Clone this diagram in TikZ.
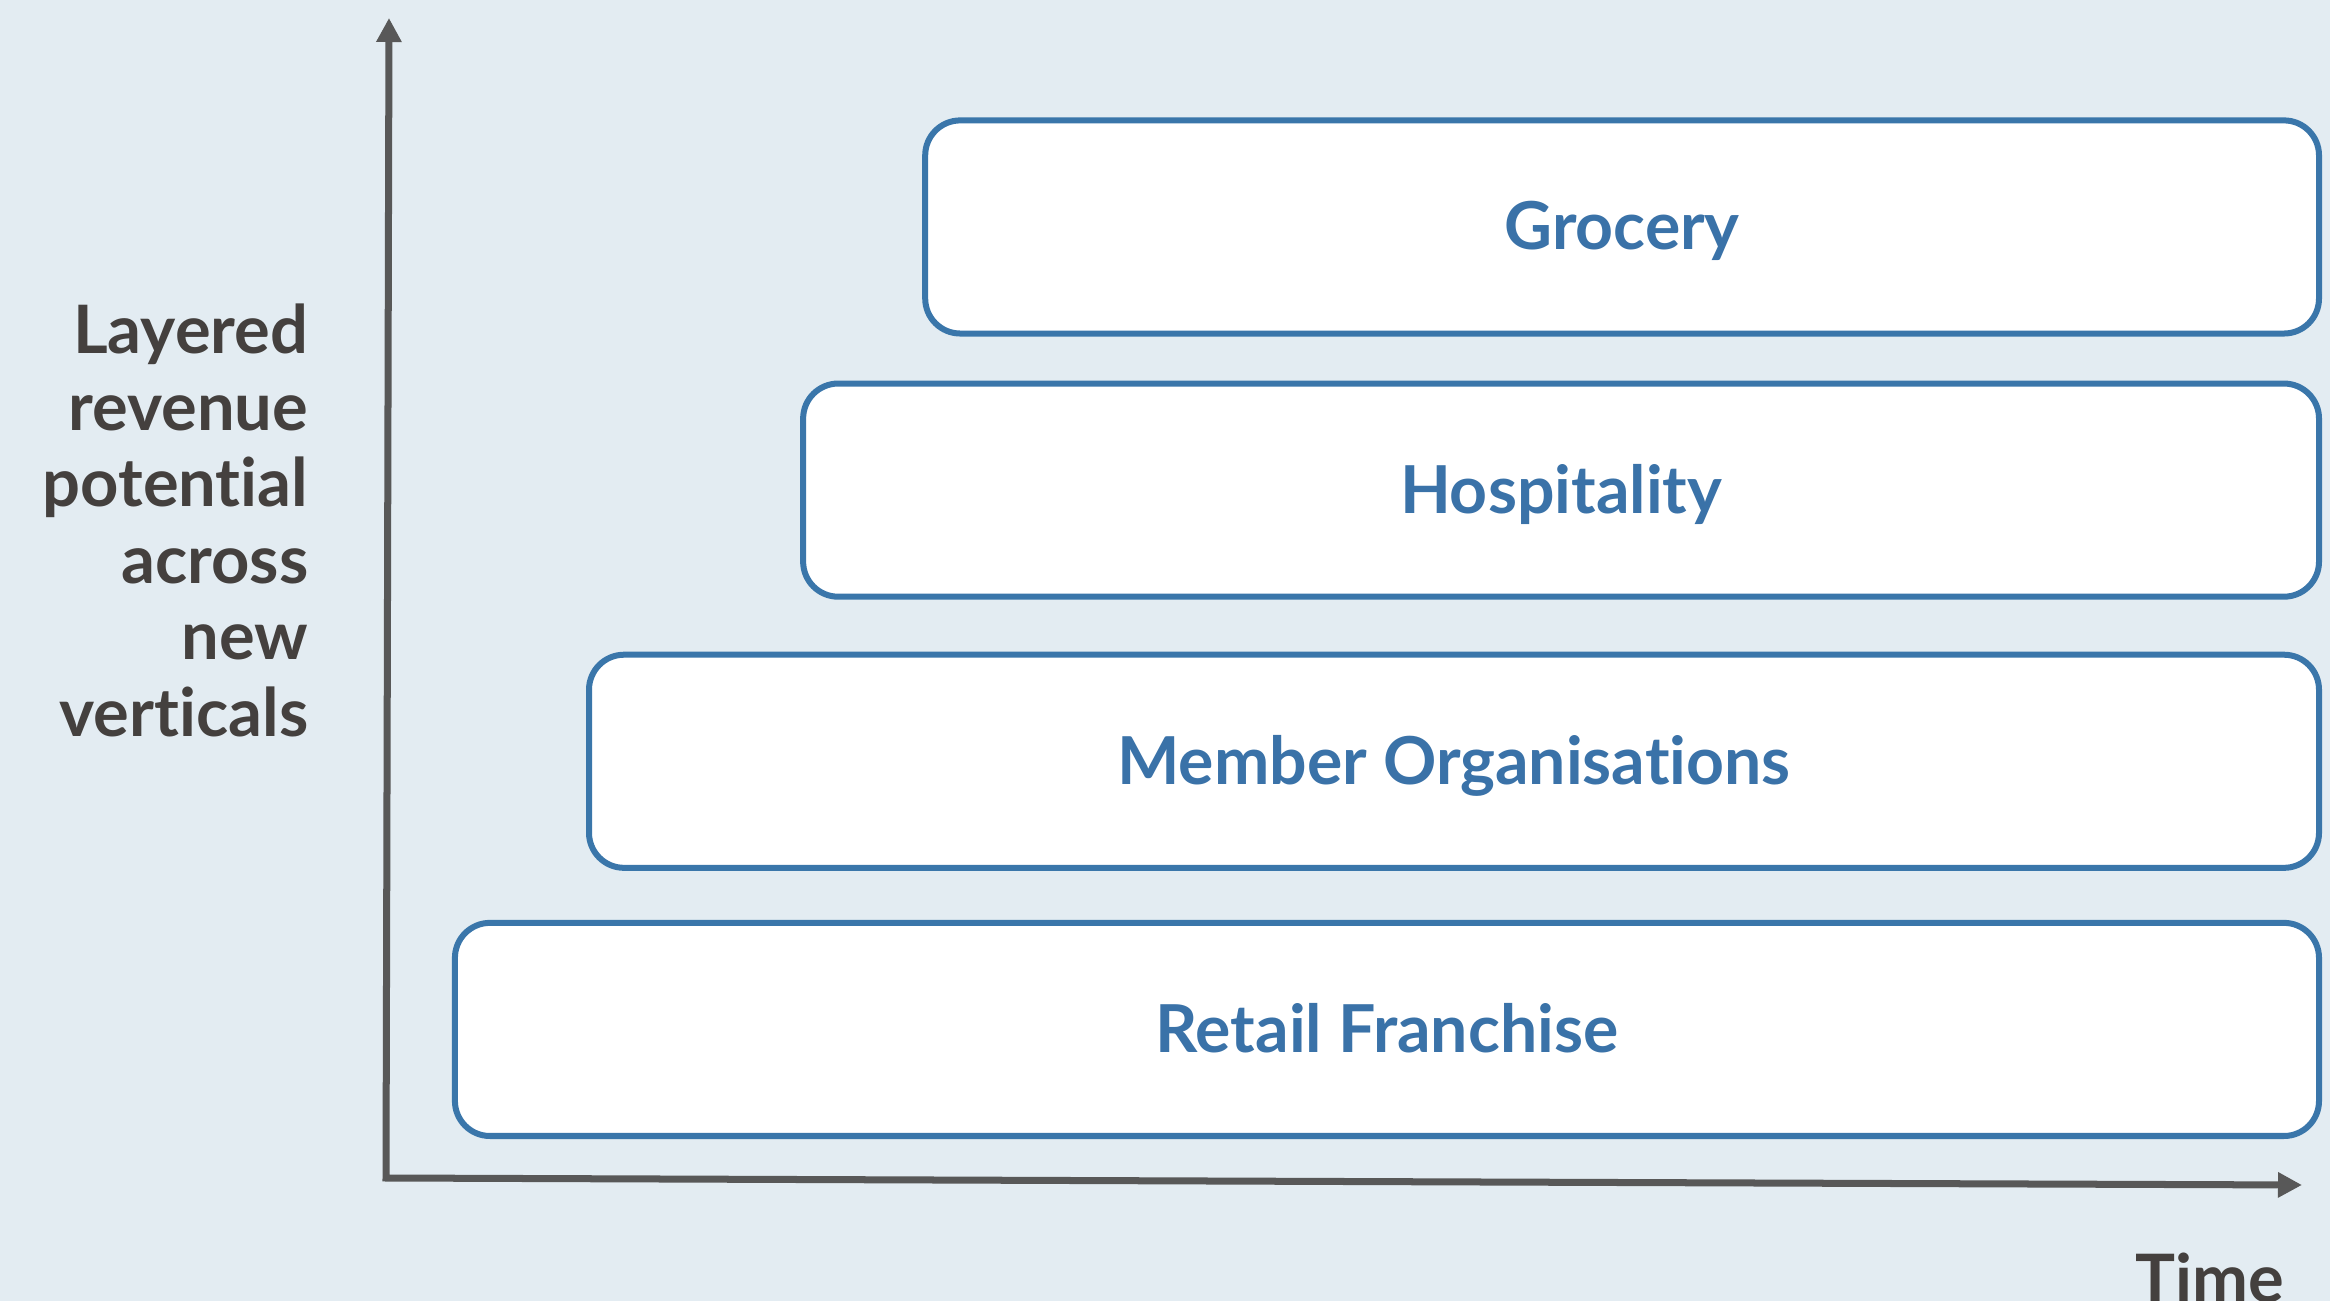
\documentclass[tikz,border=0pt]{standalone}
\usepackage{fontspec}
\setmainfont{Lato}[Ligatures=NoCommon]
\usetikzlibrary{positioning,arrows.meta}

\definecolor{bgBlue}{HTML}{E3ECF2}
\definecolor{boxBlue}{HTML}{3A76AA}
\definecolor{textBlue}{HTML}{3A72A8}
\definecolor{labelGray}{HTML}{44403E}
\definecolor{axisGray}{HTML}{585858}

\begin{document}
\begin{tikzpicture}[x=0.01cm, y=-0.01cm]
\tikzset{
    boxStyle/.style={rectangle, draw=boxBlue, fill=white, line width=0.06cm, rounded corners=0.35cm, minimum height=2.13cm, outer sep=0pt, text height=0.46cm, text depth=0cm, align=center, text=textBlue, font=\fontsize{18.8}{21}\selectfont\bfseries},
    labelStyle/.style={inner sep=0pt, text=labelGray, font=\fontsize{19}{21.8}\selectfont\bfseries},
    axisArrow/.style={{Triangle[length=0.24cm, width=0.24cm]}-{Triangle[length=0.24cm, width=0.24cm]}, line width=0.07cm, axisGray, miter limit=10}
}

\fill[bgBlue] (0,0) rectangle (2330,1301);
\useasboundingbox (0,0) rectangle (2330,1301);

% axes
\coordinate (origin) at (386,1178);
\coordinate (ytip) at (389,18);
\coordinate (xtip) at (2302,1185);
\draw[axisArrow] (ytip) -- (origin) -- (xtip);

% stacked layers
\node[boxStyle, minimum width=18.63cm, anchor=south east] (retail) at (2319,1136) {Retail Franchise};
\node[boxStyle, minimum width=17.29cm, above=0.55cm of retail.north east, anchor=south east] (member) {Member Organisations};
\node[boxStyle, minimum width=15.15cm, above=0.58cm of member.north east, anchor=south east] (hospitality) {Hospitality};
\node[boxStyle, minimum width=13.93cm, above=0.50cm of hospitality.north east, anchor=south east] (grocery) {Grocery};

% axis labels
\node[labelStyle, align=right, anchor=north east] (ylabel) at (309,303) {Layered\\revenue\\potential\\across\\new\\verticals};
\node[labelStyle, anchor=base west] (xlabel) at (2135,1302) {Time};

\end{tikzpicture}
\end{document}
